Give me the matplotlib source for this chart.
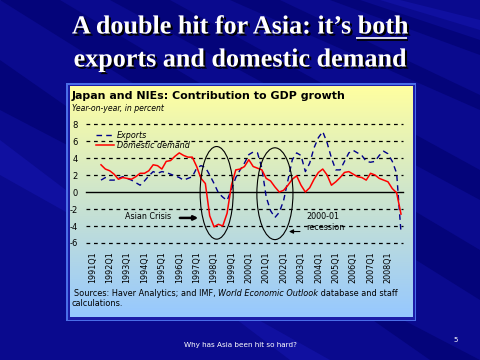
import numpy as np
import matplotlib
matplotlib.use("Agg")
import matplotlib.pyplot as plt
from matplotlib.patches import Rectangle, Polygon, Ellipse
import matplotlib.patheffects as pe

plt.rcParams['axes.unicode_minus'] = False

# quarterly data, 1991Q3 .. 2008Q4 (percent contribution)
exports = [1.4, 1.7, 1.4, 1.4, 1.6, 1.8, 1.6, 1.4, 1.1, 0.8,
           1.3, 1.9, 2.4, 2.2, 2.4, 2.3, 2.1, 1.9, 1.7, 1.4,
           1.6, 1.8, 2.8, 3.1, 2.9, 2.0, 1.0, -0.1, -0.6, -1.0,
           0.3, 1.7, 2.6, 3.4, 4.4, 4.7, 4.6, 2.8, -0.6, -2.2,
           -3.0, -2.4, -1.0, 1.4, 3.8, 4.6, 4.3, 2.4, 3.4, 5.2,
           6.4, 7.1, 5.8, 4.0, 2.6, 2.6, 3.6, 4.6, 4.9, 4.6,
           4.3, 3.6, 3.5, 3.6, 4.3, 4.8, 4.5, 3.6, 2.2, -4.8]
domestic = [3.2, 2.7, 2.5, 2.1, 1.5, 1.7, 1.6, 1.5, 1.8, 2.2,
            2.2, 2.5, 3.2, 3.1, 2.7, 3.6, 3.7, 4.2, 4.6, 4.3,
            4.1, 4.1, 3.0, 1.6, 1.0, -2.8, -4.1, -3.8, -4.0, -2.5,
            0.8, 2.6, 2.7, 3.0, 3.8, 3.0, 2.8, 2.6, 1.6, 1.3,
            0.6, 0.0, 0.2, 0.8, 1.5, 1.9, 0.8, 0.0, 0.5, 1.5,
            2.3, 2.7, 2.0, 0.8, 1.2, 1.7, 2.3, 2.4, 2.1, 1.8,
            1.7, 1.4, 2.2, 2.0, 1.6, 1.4, 1.2, 0.4, -0.1, -2.6]
years = list(range(1991, 2009))
tick_labels = [f"{y}Q1" for y in years]
yticks = [-6, -4, -2, 0, 2, 4, 6, 8]

q = np.arange(len(exports)) + 2   # quarter index from 1991Q1

fig = plt.figure(figsize=[4.8, 3.6], dpi=100)

# background drawn in pixel coords
bg = fig.add_axes([0, 0, 1, 1])
bg.set_xlim(0, 480)
bg.set_ylim(360, 0)
bg.axis('off')
bg.add_patch(Rectangle((0, 0), 480, 360, color='#0a0a8e', zorder=0))
streaks = [
    [(0, 0), (60, 0), (480, 250), (480, 300)],
    [(110, 0), (170, 0), (480, 170), (480, 200)],
    [(230, 0), (280, 0), (480, 95), (480, 110)],
    [(0, 60), (0, 110), (480, 360), (430, 360)],
    [(330, 0), (360, 0), (480, 40), (480, 55)],
]
for pts in streaks:
    bg.add_patch(Polygon(pts, closed=True, color='#04047a', zorder=1, lw=0))
for pts in [[(0, 140), (0, 175), (330, 360), (290, 360)],
            [(380, 0), (400, 0), (480, 20), (480, 30)]]:
    bg.add_patch(Polygon(pts, closed=True, color='#1010a0', zorder=1, lw=0))

# chart panel
bg.add_patch(Rectangle((66, 83), 350, 238, color='#4a6ee8', zorder=2, lw=0))
bg.add_patch(Rectangle((67.5, 84.5), 347, 235, color='#1c1ca8', zorder=2, lw=0))
top = np.array([255, 255, 160]) / 255
bot = np.array([150, 200, 255]) / 255
t = np.linspace(0, 1, 200)[:, None]
grad = (top * (1 - t) + bot * t)[:, None, :]
bg.imshow(grad, extent=(69.5, 412.5, 317.5, 86.5), aspect='auto', zorder=3,
          interpolation='bilinear')
bg.set_xlim(0, 480)
bg.set_ylim(360, 0)

# title
tsize = 18.8
tfont = dict(family='Liberation Serif', weight='bold', size=tsize, color='white',
             ha='center', va='center',
             path_effects=[pe.withSimplePatchShadow(offset=(1.5, -1.5),
                                                     shadow_rgbFace='black', alpha=1)])
line1 = bg.text(240, 27, "A double hit for Asia: it\u2019s both", **tfont)
bg.text(240, 60, "exports and domestic demand", **tfont)
fig.canvas.draw()
r = fig.canvas.get_renderer()
ext = line1.get_window_extent(r)
tmp = bg.text(0, 0, "both", family='Liberation Serif', weight='bold', size=tsize)
wb = tmp.get_window_extent(r).width
tmp.remove()
x1 = ext.x1
bg.plot([x1 - wb, x1], [39.5, 39.5], color='black', lw=1.2, zorder=5,
        solid_capstyle='butt')
bg.plot([x1 - wb - 1, x1 - 1], [38, 38], color='white', lw=1.2, zorder=6,
        solid_capstyle='butt')

bg.text(72, 96, "Japan and NIEs: Contribution to GDP growth", family='DejaVu Sans',
        weight='bold', size=7.9, va='center', ha='left', zorder=5)
bg.text(72, 108.5, "Year-on-year, in percent", family='DejaVu Sans', style='italic',
        size=5.6, va='center', ha='left', zorder=5)

fs = 5.85
bg.text(74, 294, "Sources: Haver Analytics; and IMF, ", family='DejaVu Sans',
        size=fs, va='center', ha='left', zorder=5)
s1 = bg.text(0, 0, "Sources: Haver Analytics; and IMF, ", family='DejaVu Sans', size=fs)
w1 = s1.get_window_extent(r).width
s1.remove()
bg.text(74 + w1, 294, "World Economic Outlook", family='DejaVu Sans', style='italic',
        size=fs, va='center', ha='left', zorder=5)
s2 = bg.text(0, 0, "World Economic Outlook", family='DejaVu Sans', style='italic', size=fs)
w2 = s2.get_window_extent(r).width
s2.remove()
bg.text(74 + w1 + w2, 294, " database and staff", family='DejaVu Sans',
        size=fs, va='center', ha='left', zorder=5)
bg.text(72, 304, "calculations.", family='DejaVu Sans', size=fs, va='center',
        ha='left', zorder=5)

bg.text(240, 345, "Why has Asia been hit so hard?", family='DejaVu Sans', size=5.2,
        color='white', va='center', ha='center', zorder=5)
bg.text(456, 340, "5", family='DejaVu Sans', size=5, color='white',
        va='center', ha='center', zorder=5)

# chart axes
ax = fig.add_axes([86 / 480, 1 - 243 / 360, (403 - 86) / 480, (243 - 124) / 360])
ax.patch.set_alpha(0)
for s in ax.spines.values():
    s.set_visible(False)
ax.set_xlim(-1.45, 71.46)
ax.set_ylim(-6, 8)
for v in yticks:
    if v == 0:
        ax.axhline(v, color='black', lw=1.0, zorder=1, clip_on=False)
    else:
        ax.axhline(v, color='black', lw=0.9, ls=(0, (3, 3)), zorder=1, clip_on=False)
ax.plot(q, exports, color='#00008b', lw=1.0, ls=(0, (4, 3)), label='Exports', zorder=3)
ax.plot(q, domestic, color='red', lw=1.1, label='Domestic demand', zorder=4)
ax.set_yticks(yticks)
ax.set_yticklabels([str(v) for v in yticks], family='DejaVu Sans', fontsize=6)
ax.set_xticks(np.arange(0, 4 * len(years), 4))
ax.set_xticklabels(tick_labels, rotation=90, family='DejaVu Sans', fontsize=5.8)
ax.tick_params(axis='y', length=0, pad=5.8)
ax.tick_params(axis='x', length=0, pad=6)
leg = ax.legend(loc='upper left', bbox_to_anchor=(0.01, 1.005), frameon=False,
                handlelength=2.2, handletextpad=0.3, labelspacing=0.15,
                prop=dict(family='DejaVu Sans', style='italic', size=5.8))

# annotations
ax.add_patch(Ellipse((28.6, -0.1), 7.6, 10.9, fill=False, color='black', lw=0.8,
                     zorder=5, clip_on=False))
ax.add_patch(Ellipse((42.0, -0.2), 8.3, 10.8, fill=False, color='black', lw=0.8,
                     zorder=5, clip_on=False))
ax.text(7.5, -2.9, "Asian Crisis", family='DejaVu Sans', fontsize=5.8, va='center',
        ha='left')
ax.annotate("", xy=(25.0, -3.05), xytext=(19.5, -3.05),
            arrowprops=dict(arrowstyle='-|>', color='black', lw=1.8,
                            mutation_scale=6))
ax.text(49.3, -2.9, "2000-01", family='DejaVu Sans', fontsize=5.8, va='center',
        ha='left')
ax.text(49.3, -4.2, "recession", family='DejaVu Sans', fontsize=5.8, va='center',
        ha='left')
ax.annotate("", xy=(44.6, -4.65), xytext=(48.4, -4.65),
            arrowprops=dict(arrowstyle='-|>', color='black', lw=0.8,
                            mutation_scale=6))

fig.savefig('out.png', dpi=100)
